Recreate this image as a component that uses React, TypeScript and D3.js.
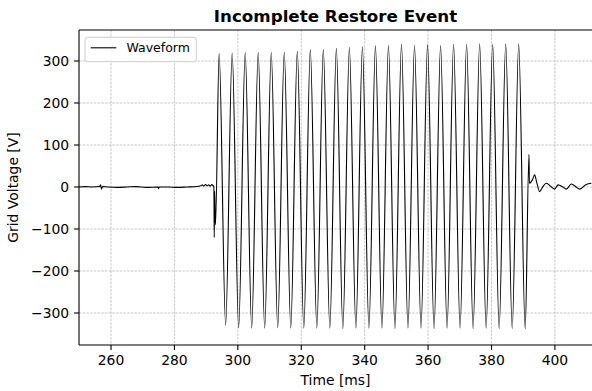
import React from "react";
import * as d3 from "d3";

// Quiet line before the restore attempt (ms, V), ending in the switching transient
const preTimes = [249.9, 252, 254, 256.4, 256.7, 257.0, 257.3, 259, 262, 265, 268, 271, 274.8, 275.0, 275.2, 278, 281, 284, 287, 288.3, 288.8, 289.3, 289.8, 290.3, 290.8, 291.3, 291.8, 292.2, 292.45, 292.55, 292.7, 292.95];
const preVolts = [0, 1, 0, 1, 5, -5, 1, 0, -1, 0, 1, -1, 0, -4, 0, 0, -1, 0, 1, 3, 5, 2, 6, 3, 5, 2, 6, 3, 2, -120, -10, -90];

// Positive crests of the restored waveform
const peakTimes = [294.10, 298.21, 302.32, 306.42, 310.53, 314.64, 318.75, 322.86, 326.96, 331.07, 335.18, 339.29, 343.40, 347.50, 351.61, 355.72, 359.83, 363.94, 368.04, 372.15, 376.26, 380.37, 384.48, 388.58];
const peakVolts = [318, 319, 320, 320, 320, 321, 323, 327, 327, 330, 332, 334, 336, 337, 340, 337, 339, 337, 340, 340, 341, 340, 341, 341];

// Negative crests
const troughTimes = [296.15, 300.26, 304.37, 308.47, 312.58, 316.69, 320.80, 324.91, 329.01, 333.12, 337.23, 341.34, 345.45, 349.55, 353.66, 357.77, 361.88, 365.99, 370.09, 374.20, 378.31, 382.42, 386.53, 390.63];
const troughVolts = [-329, -335, -336, -336, -335, -336, -336, -336, -336, -337, -336, -336, -336, -337, -336, -336, -337, -336, -336, -337, -336, -337, -337, -338];

// Collapse and residual ringing afterwards
const postTimes = [391.83, 391.95, 392.9, 393.6, 394.2, 395.2, 396.2, 397.3, 398.9, 399.9, 401.0, 402.5, 403.6, 405.2, 406.7, 407.8, 409.9, 411.5];
const postVolts = [78, 9, 17, 29, 13, -11, 1, 9, 0, -5, 5, 0, -5, 7, 0, -5, 6, 9];

const xTicks = [260, 280, 300, 320, 340, 360, 380, 400];
const yTicks = [-300, -200, -100, 0, 100, 200, 300];

const W = 592;
const H = 391;
const left = 79;
const right = 592;
const top = 30;
const bottom = 345;

const FONT = "DejaVu Sans, sans-serif";

type Pt = [number, number];

export default function App() {
  const x = d3.scaleLinear().domain([249.9, 411.7]).range([left, right]);
  const y = d3.scaleLinear().domain([-376.2, 373.8]).range([bottom, top]);

  const pts: Pt[] = [];
  preTimes.forEach((t, i) => pts.push([t, preVolts[i]]));
  peakTimes.forEach((t, i) => pts.push([t, peakVolts[i]]));
  troughTimes.forEach((t, i) => pts.push([t, troughVolts[i]]));
  postTimes.forEach((t, i) => pts.push([t, postVolts[i]]));
  pts.sort((a, b) => a[0] - b[0]);

  const line = d3
    .line<Pt>()
    .x((d) => x(d[0]))
    .y((d) => y(d[1]))
    .curve(d3.curveMonotoneX);

  const tickLen = 4.9;
  const fmt = (v: number) => (v < 0 ? "\u2212" + Math.abs(v) : String(v));

  return (
    <svg
      width={W}
      height={H}
      style={{ position: "absolute", left: 0, top: 0, background: "#fff" }}
      fontFamily={FONT}
    >
      <defs>
        <clipPath id="plotArea">
          <rect x={left} y={top} width={right - left} height={bottom - top} />
        </clipPath>
      </defs>
      <rect x={0} y={0} width={W} height={H} fill="#fff" />

      {/* grid */}
      <g stroke="#b0b0b0" strokeWidth={0.7} strokeDasharray="2.6,1.1">
        {xTicks.map((t) => (
          <line key={"gx" + t} x1={x(t)} x2={x(t)} y1={top} y2={bottom} />
        ))}
        {yTicks.map((t) => (
          <line key={"gy" + t} x1={left} x2={right} y1={y(t)} y2={y(t)} />
        ))}
      </g>

      {/* waveform */}
      <path
        d={line(pts) ?? ""}
        fill="none"
        stroke="#000"
        strokeWidth={1.1}
        strokeLinejoin="round"
        clipPath="url(#plotArea)"
      />

      {/* spines */}
      <g stroke="#000" strokeWidth={1.1} fill="none">
        <line x1={left} x2={left} y1={top} y2={bottom} />
        <line x1={left} x2={right} y1={top} y2={top} />
        <line x1={left} x2={right} y1={bottom} y2={bottom} />
      </g>

      {/* x axis */}
      <g fontSize={13.9} fill="#000">
        {xTicks.map((t) => (
          <g key={"xt" + t}>
            <line x1={x(t)} x2={x(t)} y1={bottom} y2={bottom + tickLen} stroke="#000" strokeWidth={1.1} />
            <text x={x(t)} y={364.6} textAnchor="middle">
              {fmt(t)}
            </text>
          </g>
        ))}
      </g>

      {/* y axis */}
      <g fontSize={13.9} fill="#000">
        {yTicks.map((t) => (
          <g key={"yt" + t}>
            <line x1={left - tickLen} x2={left} y1={y(t)} y2={y(t)} stroke="#000" strokeWidth={1.1} />
            <text x={left - tickLen - 4.9} y={y(t) + 5} textAnchor="end">
              {fmt(t)}
            </text>
          </g>
        ))}
      </g>

      {/* labels */}
      <text x={(left + right) / 2} y={385} textAnchor="middle" fontSize={13.9}>
        Time [ms]
      </text>
      <text
        transform={`translate(18.4, ${(top + bottom) / 2}) rotate(-90)`}
        textAnchor="middle"
        fontSize={13.9}
      >
        Grid Voltage [V]
      </text>
      <text x={(left + right) / 2} y={22} textAnchor="middle" fontSize={16.7} fontWeight="bold">
        Incomplete Restore Event
      </text>

      {/* legend */}
      <g>
        <rect x={85} y={37.3} width={111.3} height={24.4} rx={2.5} fill="#fff" fillOpacity={0.8} stroke="#cccccc" strokeWidth={1} />
        <line x1={90.7} x2={116.3} y1={47.8} y2={47.8} stroke="#000" strokeWidth={1.1} />
        <text x={126.5} y={52} fontSize={12.5}>
          Waveform
        </text>
      </g>
    </svg>
  );
}
